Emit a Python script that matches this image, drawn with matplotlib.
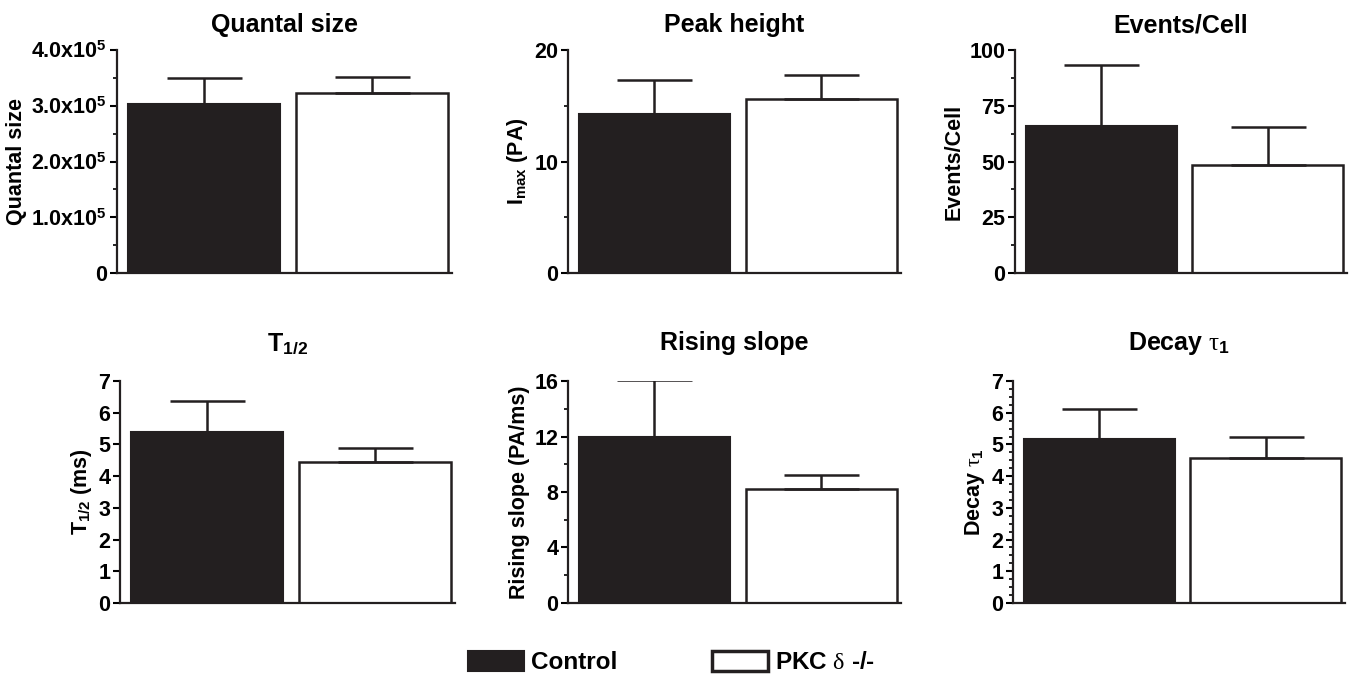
import numpy as np
import matplotlib
matplotlib.use('Agg')
import matplotlib.pyplot as plt
from matplotlib.patches import Patch
from matplotlib.ticker import MultipleLocator

plt.rcParams['font.family'] = ['Liberation Sans', 'DejaVu Sans']
plt.rcParams['font.weight'] = 'bold'
plt.rcParams['mathtext.fontset'] = 'custom'
plt.rcParams['mathtext.rm'] = 'Liberation Sans:bold'
plt.rcParams['mathtext.bf'] = 'Liberation Sans:bold'
plt.rcParams['mathtext.it'] = 'Liberation Serif:regular'

# Data
groups = ['Control', 'PKC $\\mathit{\\delta}$ -/-']
titles = ['Quantal size', 'Peak height', 'Events/Cell',
          'T$_{1/2}$', 'Rising slope', 'Decay $\\mathit{\\tau}_1$']
ylabels = ['Quantal size', 'I$_{\\mathrm{max}}$ (PA)', 'Events/Cell',
           'T$_{1/2}$ (ms)', 'Rising slope (PA/ms)', 'Decay $\\mathit{\\tau}_1$']
control_mean = [3.03e5, 14.3, 66.0, 5.4, 12.0, 5.18]
control_sem = [0.47e5, 3.0, 27.3, 0.97, 4.1, 0.94]
pkc_mean = [3.23e5, 15.6, 48.4, 4.45, 8.25, 4.58]
pkc_sem = [0.29e5, 2.2, 17.1, 0.44, 0.97, 0.65]
ymax = [4e5, 20, 100, 7, 16, 7]
major = [1e5, 10, 25, 1, 4, 1]
minor = [0.5e5, 5, 12.5, None, 2, 0.25]
ticklabels0 = ['0', '1.0x10$^5$', '2.0x10$^5$', '3.0x10$^5$', '4.0x10$^5$']

bar_color = '#231f20'

fig = plt.figure(figsize=(13.54, 6.86), dpi=100)

# axes positions (left, bottom, width, height)
pos = [(0.0864, 0.602, 0.2474, 0.325),
       (0.4195, 0.602, 0.2459, 0.325),
       (0.7496, 0.602, 0.2452, 0.325),
       (0.0886, 0.121, 0.2474, 0.3236),
       (0.4195, 0.121, 0.2459, 0.3236),
       (0.7482, 0.121, 0.2452, 0.3236)]

for i in range(6):
    ax = fig.add_axes(pos[i])
    ax.bar(0, control_mean[i], width=0.905, color=bar_color,
           edgecolor=bar_color, linewidth=1.5)
    ax.bar(1, pkc_mean[i], width=0.905, color='white',
           edgecolor=bar_color, linewidth=1.8)
    ax.errorbar([0], [control_mean[i]], yerr=[[0], [control_sem[i]]],
                fmt='none', ecolor=bar_color, elinewidth=1.8,
                capsize=27, capthick=1.8)
    ax.errorbar([1], [pkc_mean[i]], yerr=[[0], [pkc_sem[i]]],
                fmt='none', ecolor=bar_color, elinewidth=1.8,
                capsize=27, capthick=1.8)
    ax.set_xlim(-0.518, 1.476)
    ax.set_ylim(0, ymax[i])
    ax.yaxis.set_major_locator(MultipleLocator(major[i]))
    if minor[i] is not None:
        ax.yaxis.set_minor_locator(MultipleLocator(minor[i]))
    if i == 0:
        ax.set_yticks(np.arange(0, 4.01e5, 1e5))
        ax.set_yticklabels(ticklabels0)
    ax.set_xticks([])
    for s in ['top', 'right']:
        ax.spines[s].set_visible(False)
    for s in ['left', 'bottom']:
        ax.spines[s].set_linewidth(1.6)
        ax.spines[s].set_color(bar_color)
    ax.tick_params(axis='y', which='major', length=5, width=1.5,
                   labelsize=15.5, pad=2)
    ax.tick_params(axis='y', which='minor', length=3, width=1.2)
    for lab in ax.get_yticklabels():
        lab.set_fontweight('bold')
    ax.set_ylabel(ylabels[i], fontsize=15.5, fontweight='bold', labelpad=3)
    ax.set_title(titles[i], fontsize=18, fontweight='bold',
                 pad=13 if i < 3 else 22)

handles = [Patch(facecolor=bar_color, edgecolor=bar_color, linewidth=1.5),
           Patch(facecolor='white', edgecolor=bar_color, linewidth=2.5)]
fig.legend(handles, groups, loc='center', bbox_to_anchor=(0.496, 0.034),
           ncol=2, frameon=False, prop={'size': 17.5, 'weight': 'bold'},
           handlelength=2.3, handleheight=0.9, handletextpad=0.3,
           columnspacing=3.9)

plt.savefig('out.png', dpi=100)
